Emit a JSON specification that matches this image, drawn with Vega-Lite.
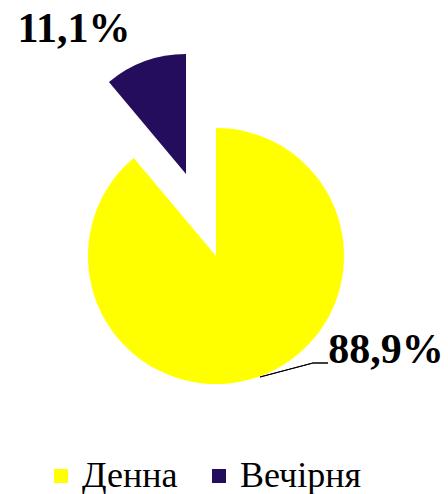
{
  "$schema": "https://vega.github.io/schema/vega-lite/v6.json",
  "width": 448,
  "height": 494,
  "padding": 0,
  "autosize": {"type": "none"},
  "background": "white",
  "config": {
    "view": {"stroke": null},
    "font": "Liberation Serif",
    "legend": {"labelFont": "Liberation Serif", "labelFontSize": 36}
  },
  "data": {
    "values": [
      {"type": "Денна", "value": 88.9, "label": "88,9%"},
      {"type": "Вечірня", "value": 11.1, "label": "11,1%"}
    ]
  },
  "transform": [
    {"stack": "value", "groupby": [], "as": ["v0", "v1"], "sort": [{"field": "value", "order": "descending"}]}
  ],
  "layer": [
    {
      "transform": [{"filter": "datum.type === 'Денна'"}],
      "mark": {"type": "arc", "x": 216, "y": 256, "outerRadius": 128},
      "encoding": {
        "theta": {"field": "v0", "type": "quantitative", "scale": {"domain": [0, 100]}},
        "theta2": {"field": "v1"},
        "color": {
          "field": "type",
          "type": "nominal",
          "scale": {"domain": ["Денна", "Вечірня"], "range": ["#FFFF00", "#250D5E"]},
          "legend": {
            "title": null,
            "orient": "none",
            "direction": "horizontal",
            "legendX": 43,
            "legendY": 458,
            "symbolType": "square",
            "symbolSize": 196,
            "symbolStrokeWidth": 0,
            "labelFont": "Liberation Serif",
            "labelFontSize": 36,
            "labelColor": "black",
            "labelOffset": 3,
            "columnPadding": 23,
            "padding": 0,
            "labelLimit": 300
          }
        }
      }
    },
    {
      "transform": [{"filter": "datum.type === 'Вечірня'"}],
      "mark": {"type": "arc", "x": 186, "y": 174, "outerRadius": 120},
      "encoding": {
        "theta": {"field": "v0", "type": "quantitative", "scale": {"domain": [0, 100]}},
        "theta2": {"field": "v1"},
        "color": {"field": "type", "type": "nominal"}
      }
    },
    {
      "transform": [{"filter": "datum.type === 'Денна'"}],
      "mark": {"type": "text", "x": 386, "y": 363, "align": "center", "baseline": "alphabetic", "font": "Liberation Serif", "fontWeight": "bold", "fontSize": 42, "color": "black"},
      "encoding": {"text": {"field": "label"}}
    },
    {
      "transform": [{"filter": "datum.type === 'Вечірня'"}],
      "mark": {"type": "text", "x": 74, "y": 42, "align": "center", "baseline": "alphabetic", "font": "Liberation Serif", "fontWeight": "bold", "fontSize": 42, "color": "black"},
      "encoding": {"text": {"field": "label"}}
    },
    {
      "mark": {"type": "rule", "color": "black", "strokeWidth": 1},
      "encoding": {"x": {"value": 260}, "y": {"value": 377}, "x2": {"value": 313}, "y2": {"value": 363}}
    },
    {
      "mark": {"type": "rule", "color": "black", "strokeWidth": 1},
      "encoding": {"x": {"value": 313}, "y": {"value": 363}, "x2": {"value": 328}, "y2": {"value": 363}}
    }
  ]
}
